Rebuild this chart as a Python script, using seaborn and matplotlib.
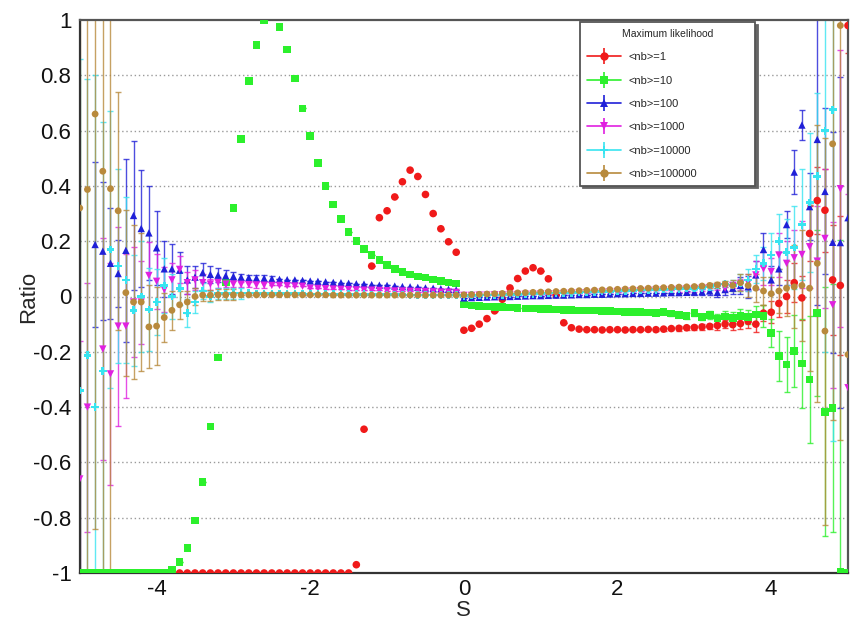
import numpy as np
import pandas as pd
import matplotlib
matplotlib.use("Agg")
import matplotlib.pyplot as plt
from matplotlib.lines import Line2D
from matplotlib.legend_handler import HandlerTuple
from matplotlib.ticker import MultipleLocator
import seaborn as sns

# ---------------- data ----------------
S_BINS = np.round(np.linspace(-5.0, 5.0, 101), 1)

SERIES = ["<nb>=1", "<nb>=10", "<nb>=100", "<nb>=1000", "<nb>=10000", "<nb>=100000"]

red_y = [
    -1.0, -1.0, -1.0, -1.0, -1.0, -1.0, -1.0, -1.0, -1.0, -1.0,
    -1.0, -1.0, -1.0, -1.0, -1.0, -1.0, -1.0, -1.0, -1.0, -1.0,
    -1.0, -1.0, -1.0, -1.0, -1.0, -1.0, -1.0, -1.0, -1.0, -1.0,
    -1.0, -1.0, -1.0, -1.0, -1.0, -1.0, -0.97, -0.48, 0.11, 0.285,
    0.31, 0.36, 0.415, 0.457, 0.434, 0.369, 0.30, 0.245, 0.198, 0.16,
    -0.122, -0.115, -0.10, -0.08, -0.052, -0.01, 0.031, 0.065, 0.092, 0.104,
    0.092, 0.064, 0.006, -0.095, -0.113, -0.118, -0.12, -0.12, -0.121, -0.12,
    -0.12, -0.121, -0.12, -0.12, -0.119, -0.12, -0.118, -0.116, -0.115, -0.113,
    -0.112, -0.11, -0.108, -0.105, -0.10, -0.102, -0.098, -0.09, -0.10, -0.06,
    -0.057, -0.025, 0.0, 0.05, -0.005, 0.228, 0.347, 0.312, 0.06, 0.04, 0.98]
red_err = [
    0, 0, 0, 0, 0, 0, 0, 0, 0, 0,
    0, 0, 0, 0, 0, 0, 0, 0, 0, 0,
    0, 0, 0, 0, 0, 0, 0, 0, 0, 0,
    0, 0, 0, 0, 0, 0, 0, 0, 0, 0,
    0, 0, 0, 0, 0, 0, 0, 0, 0, 0,
    0, 0, 0, 0, 0, 0, 0, 0, 0, 0,
    0, 0, 0, 0, 0, 0, 0, 0, 0, 0,
    0, 0, 0, 0, 0, 0.005, 0.005, 0.005, 0.008, 0.008,
    0.01, 0.01, 0.01, 0.015, 0.015, 0.02, 0.02, 0.025, 0.03, 0.03,
    0.04, 0.05, 0.06, 0.07, 0.08, 0.10, 0.12, 0.15, 0.20, 0.25, 0.10]

green_y = [
    -1.0, -1.0, -1.0, -1.0, -1.0, -1.0, -1.0, -1.0, -1.0, -1.0,
    -1.0, -1.0, -0.99, -0.96, -0.91, -0.81, -0.67, -0.47, -0.22, 0.05,
    0.32, 0.57, 0.78, 0.91, 1.0, 1.06, 0.974, 0.893, 0.788, 0.68,
    0.58, 0.483, 0.40, 0.333, 0.28, 0.234, 0.20, 0.171, 0.149, 0.132,
    0.114, 0.10, 0.089, 0.08, 0.073, 0.069, 0.061, 0.055, 0.051, 0.047,
    -0.029, -0.032, -0.034, -0.036, -0.038, -0.039, -0.040, -0.041, -0.043, -0.044,
    -0.045, -0.046, -0.047, -0.048, -0.049, -0.050, -0.050, -0.051, -0.052, -0.053,
    -0.054, -0.055, -0.056, -0.055, -0.058, -0.060, -0.057, -0.062, -0.066, -0.070,
    -0.060, -0.075, -0.068, -0.080, -0.072, -0.077, -0.070, -0.075, -0.065, -0.070,
    -0.131, -0.216, -0.246, -0.198, -0.243, -0.30, -0.059, -0.417, -0.403, -0.997, -1.0]
green_err = [
    0, 0, 0, 0, 0, 0, 0, 0, 0, 0,
    0, 0, 0, 0, 0, 0, 0, 0, 0, 0,
    0, 0, 0, 0, 0, 0, 0, 0, 0, 0,
    0, 0, 0, 0, 0, 0, 0, 0, 0, 0,
    0, 0, 0, 0, 0, 0, 0, 0, 0, 0,
    0, 0, 0, 0, 0, 0, 0, 0, 0, 0,
    0, 0, 0, 0, 0, 0, 0, 0, 0, 0,
    0, 0, 0, 0, 0, 0.005, 0.005, 0.008, 0.008, 0.01,
    0.01, 0.01, 0.015, 0.015, 0.02, 0.02, 0.025, 0.025, 0.03, 0.04,
    0.05, 0.09, 0.10, 0.13, 0.16, 0.23, 0.30, 0.45, 0.45, 1.2, 0.0]

blue_y = [
    np.nan, np.nan, 0.188, 0.164, 0.12, 0.083, 0.167, 0.293, 0.246, 0.23,
    0.176, 0.10, 0.10, 0.095, 0.06, 0.07, 0.086, 0.08, 0.077, 0.075,
    0.073, 0.07, 0.068, 0.067, 0.066, 0.064, 0.062, 0.061, 0.06, 0.058,
    0.056, 0.055, 0.053, 0.051, 0.05, 0.048, 0.046, 0.045, 0.043, 0.041,
    0.04, 0.038, 0.036, 0.035, 0.033, 0.031, 0.03, 0.028, 0.026, 0.024,
    -0.005, -0.004, -0.003, -0.002, -0.001, 0.0, 0.0, 0.001, 0.002, 0.003,
    0.003, 0.004, 0.005, 0.005, 0.006, 0.007, 0.007, 0.008, 0.008, 0.009,
    0.010, 0.010, 0.011, 0.011, 0.012, 0.012, 0.013, 0.014, 0.014, 0.015,
    0.016, 0.017, 0.020, 0.015, 0.025, 0.030, 0.040, 0.035, 0.078, 0.17,
    0.06, 0.10, 0.26, 0.45, 0.62, 0.325, 0.568, 0.38, 0.196, 0.195, 0.285]
blue_err = [
    np.nan, np.nan, 0.30, 0.25, 0.20, 0.12, 0.33, 0.27, 0.21, 0.17,
    0.135, 0.10, 0.09, 0.065, 0.05, 0.04, 0.035, 0.03, 0.025, 0.02,
    0.015, 0.01, 0.01, 0.01, 0.01, 0.01, 0, 0, 0, 0,
    0, 0, 0, 0, 0, 0, 0, 0, 0, 0,
    0, 0, 0, 0, 0, 0, 0, 0, 0, 0,
    0, 0, 0, 0, 0, 0, 0, 0, 0, 0,
    0, 0, 0, 0, 0, 0, 0, 0, 0, 0,
    0, 0, 0, 0, 0, 0, 0, 0, 0, 0.005,
    0.01, 0.01, 0.015, 0.015, 0.02, 0.02, 0.03, 0.04, 0.05, 0.06,
    0.05, 0.06, 0.05, 0.08, 0.055, 0.12, 0.60, 0.30, 0.40, 0.60, 1.3]

magenta_y = [
    -0.66, -0.40, np.nan, -0.19, -0.28, -0.107, -0.107, -0.02, -0.02, 0.076,
    0.055, 0.025, 0.06, 0.098, 0.05, 0.06, 0.05, 0.045, 0.05, 0.045,
    0.045, 0.044, 0.043, 0.042, 0.041, 0.040, 0.040, 0.039, 0.038, 0.037,
    0.030, 0.029, 0.028, 0.027, 0.026, 0.025, 0.024, 0.023, 0.023, 0.022,
    0.021, 0.020, 0.020, 0.019, 0.018, 0.018, 0.017, 0.016, 0.016, 0.015,
    0.004, 0.004, 0.005, 0.005, 0.006, 0.006, 0.007, 0.007, 0.008, 0.008,
    0.009, 0.010, 0.010, 0.011, 0.012, 0.013, 0.014, 0.015, 0.016, 0.017,
    0.018, 0.019, 0.020, 0.021, 0.022, 0.023, 0.024, 0.025, 0.026, 0.027,
    0.028, 0.030, 0.032, 0.035, 0.030, 0.040, 0.045, 0.050, 0.078, 0.10,
    0.09, 0.15, 0.12, 0.14, 0.152, 0.18, 0.128, 0.21, -0.03, 0.39, -0.33]
magenta_err = [
    0.50, 0.45, np.nan, 0.40, 0.40, 0.36, 0.26, 0.20, 0.15, 0.12,
    0.10, 0.08, 0.06, 0.05, 0.04, 0.035, 0.03, 0.02, 0.02, 0.01,
    0.01, 0.01, 0.01, 0.01, 0.01, 0, 0, 0, 0, 0,
    0, 0, 0, 0, 0, 0, 0, 0, 0, 0,
    0, 0, 0, 0, 0, 0, 0, 0, 0, 0,
    0, 0, 0, 0, 0, 0, 0, 0, 0, 0,
    0, 0, 0, 0, 0, 0, 0, 0, 0, 0,
    0, 0, 0, 0, 0, 0, 0, 0, 0.01, 0.01,
    0.01, 0.01, 0.01, 0.01, 0.01, 0.01, 0.02, 0.03, 0.05, 0.06,
    0.05, 0.08, 0.08, 0.10, 0.12, 0.15, 0.20, 0.25, 0.30, 0.50, 0.70]

cyan_y = [
    -0.34, -0.213, -0.40, -0.27, 0.17, 0.11, 0.06, -0.05, 0.0, -0.047,
    -0.02, 0.04, 0.0, 0.03, -0.06, -0.02, 0.02, 0.0, 0.01, 0.01,
    0.012, 0.012, 0.012, 0.011, 0.011, 0.011, 0.010, 0.010, 0.010, 0.010,
    0.009, 0.009, 0.009, 0.009, 0.008, 0.008, 0.008, 0.008, 0.007, 0.007,
    0.007, 0.007, 0.007, 0.006, 0.006, 0.006, 0.006, 0.006, 0.006, 0.006,
    0.003, 0.004, 0.004, 0.005, 0.005, 0.006, 0.007, 0.008, 0.009, 0.010,
    0.011, 0.012, 0.012, 0.013, 0.014, 0.015, 0.016, 0.017, 0.018, 0.019,
    0.020, 0.021, 0.022, 0.023, 0.024, 0.025, 0.026, 0.027, 0.028, 0.029,
    0.030, 0.032, 0.035, 0.040, 0.045, 0.040, 0.050, 0.060, 0.10, 0.12,
    0.15, 0.20, 0.16, 0.177, 0.26, 0.34, 0.435, 0.60, 0.676, np.nan, np.nan]
cyan_err = [
    1.2, 1.0, 1.2, 0.9, 0.5, 0.35, 0.30, 0.20, 0.20, 0.15,
    0.12, 0.10, 0.08, 0.06, 0.05, 0.04, 0.03, 0.02, 0.02, 0.02,
    0.02, 0.02, 0, 0, 0, 0, 0, 0, 0, 0,
    0, 0, 0, 0, 0, 0, 0, 0, 0, 0,
    0, 0, 0, 0, 0, 0, 0, 0, 0, 0,
    0, 0, 0, 0, 0, 0, 0, 0, 0, 0,
    0, 0, 0, 0, 0, 0, 0, 0, 0, 0,
    0, 0, 0, 0, 0, 0, 0, 0, 0, 0,
    0.005, 0.005, 0.01, 0.01, 0.01, 0.02, 0.03, 0.04, 0.05, 0.06,
    0.08, 0.10, 0.12, 0.15, 0.20, 0.25, 0.30, 0.80, 1.2, np.nan, np.nan]

brown_y = [
    0.32, 0.387, 0.66, 0.453, 0.39, 0.31, 0.014, -0.02, -0.02, -0.11,
    -0.107, -0.076, -0.05, -0.03, -0.02, 0.0, 0.005, 0.005, 0.006, 0.006,
    0.006, 0.006, 0.006, 0.006, 0.006, 0.006, 0.006, 0.006, 0.006, 0.006,
    0.006, 0.006, 0.006, 0.005, 0.005, 0.005, 0.005, 0.005, 0.005, 0.005,
    0.005, 0.005, 0.005, 0.005, 0.005, 0.005, 0.005, 0.005, 0.005, 0.005,
    0.006, 0.007, 0.008, 0.009, 0.010, 0.011, 0.012, 0.013, 0.014, 0.015,
    0.016, 0.017, 0.018, 0.019, 0.020, 0.021, 0.022, 0.023, 0.024, 0.025,
    0.026, 0.027, 0.028, 0.029, 0.030, 0.031, 0.032, 0.033, 0.034, 0.035,
    0.036, 0.038, 0.040, 0.042, 0.045, 0.040, 0.050, 0.040, 0.030, 0.020,
    0.01, 0.02, 0.03, 0.035, 0.04, 0.03, 0.12, -0.125, 0.552, 0.98, -0.21]
brown_err = [
    1.5, 1.5, 1.5, 1.5, 1.5, 0.43, 0.30, 0.28, 0.25, 0.15,
    0.14, 0.09, 0.07, 0.05, 0.04, 0.03, 0.02, 0.02, 0.02, 0.02,
    0.02, 0, 0, 0, 0, 0, 0, 0, 0, 0,
    0, 0, 0, 0, 0, 0, 0, 0, 0, 0,
    0, 0, 0, 0, 0, 0, 0, 0, 0, 0,
    0, 0, 0, 0, 0, 0, 0, 0, 0, 0,
    0, 0, 0, 0, 0, 0, 0, 0, 0, 0,
    0, 0, 0, 0, 0, 0, 0, 0, 0, 0,
    0.005, 0.005, 0.01, 0.01, 0.01, 0.02, 0.03, 0.04, 0.05, 0.05,
    0.06, 0.08, 0.10, 0.15, 0.20, 0.30, 0.50, 0.70, 1.0, 1.5, 1.5]

Y_TICKS = [-1, -0.8, -0.6, -0.4, -0.2, 0, 0.2, 0.4, 0.6, 0.8, 1]
Y_TICK_LABELS = ["-1", "-0.8", "-0.6", "-0.4", "-0.2", "0", "0.2", "0.4", "0.6", "0.8", "1"]
X_TICKS = [-4, -2, 0, 2, 4]
X_TICK_LABELS = ["-4", "-2", "0", "2", "4"]

# ---------------- styling ----------------
sns.set_theme(style="white")
plt.rcParams["font.family"] = ["Liberation Sans", "DejaVu Sans"]

colors = ["#f01a1a", "#2cf02c", "#2020d8", "#e020e0", "#38e4f0", "#b88a3c"]
markers = ["o", "s", "^", "v", "P", "o"]
sizes = [30, 30, 28, 28, 32, 24]

ys = [red_y, green_y, blue_y, magenta_y, cyan_y, brown_y]
errs = [red_err, green_err, blue_err, magenta_err, cyan_err, brown_err]

frames = []
for name, y, e in zip(SERIES, ys, errs):
    frames.append(pd.DataFrame({"S": S_BINS, "Ratio": np.array(y, dtype=float),
                                "err": np.array(e, dtype=float), "series": name}))
df = pd.concat(frames, ignore_index=True)

fig = plt.figure(figsize=(8.58, 6.21), dpi=100)
ax = fig.add_axes([79.75 / 858, 1 - 573 / 621, (848 - 79.75) / 858, (573 - 20) / 621])

# error bars
for i, name in enumerate(SERIES):
    sub = df[df["series"] == name]
    ax.errorbar(sub["S"], sub["Ratio"], yerr=sub["err"], fmt="none",
                ecolor=colors[i], elinewidth=1.0, capsize=2.5, capthick=1.0,
                alpha=0.8, zorder=2 + i * 0.01)

# markers, drawn per series so later series lie on top
for i, name in enumerate(SERIES):
    sub = df[df["series"] == name]
    sns.scatterplot(data=sub, x="S", y="Ratio", color=colors[i], marker=markers[i],
                    s=sizes[i], linewidth=0, edgecolor="none", ax=ax,
                    legend=False, zorder=3 + i * 0.01)

ax.set_xlim(-5, 5)
ax.set_ylim(-1, 1)
ax.set_xticks(X_TICKS)
ax.set_xticklabels(X_TICK_LABELS)
ax.set_yticks(Y_TICKS)
ax.set_yticklabels(Y_TICK_LABELS)
ax.xaxis.set_minor_locator(MultipleLocator(0.5))
ax.yaxis.set_minor_locator(MultipleLocator(0.05))
ax.tick_params(axis="both", which="both", direction="in", top=False, right=False,
               colors="#222222", labelsize=16, labelcolor="#111111")
ax.tick_params(axis="x", which="major", length=16, width=1.3, pad=4)
ax.tick_params(axis="x", which="minor", length=8, width=1.0)
ax.tick_params(axis="y", which="major", length=14, width=1.3, pad=6)
ax.tick_params(axis="y", which="minor", length=7, width=1.0)

ax.set_axisbelow(True)
for yv in Y_TICKS[1:-1]:
    ax.axhline(yv, color="#9a9a9a", lw=1.0, ls=(0, (1, 2)), zorder=0.5)

for side in ["top", "right"]:
    ax.spines[side].set_color("#555555")
    ax.spines[side].set_linewidth(1.6)
for side in ["left", "bottom"]:
    ax.spines[side].set_color("#333333")
    ax.spines[side].set_linewidth(1.6)

ax.set_xlabel("S", fontsize=16)
ax.xaxis.set_label_coords(0.5, -0.048)
ax.set_ylabel("Ratio", fontsize=16, labelpad=-4)

# legend
handles = []
for i in range(len(SERIES)):
    h = (Line2D([0], [0], color=colors[i], lw=1.2),
         Line2D([0], [0], color=colors[i], marker="|", ms=11, mew=1.2, ls="none"),
         Line2D([0], [0], color=colors[i], marker=markers[i], ms=6, ls="none", mew=0))
    handles.append(h)
leg = ax.legend(handles, SERIES, handler_map={tuple: HandlerTuple(ndivide=1)},
                title="Maximum likelihood", loc="upper left",
                bbox_to_anchor=(0.651, 0.68, 0.228, 0.316), mode="expand",
                borderaxespad=0, fontsize=8, title_fontsize=7.5, frameon=True,
                fancybox=False, edgecolor="#555555", framealpha=1,
                labelspacing=1.2, handlelength=3.1, handletextpad=0.7,
                borderpad=0.6, shadow={"color": "#666666", "alpha": 1})
leg.get_frame().set_linewidth(1.3)
leg.set_zorder(10)

fig.savefig("out.png", dpi=100)
